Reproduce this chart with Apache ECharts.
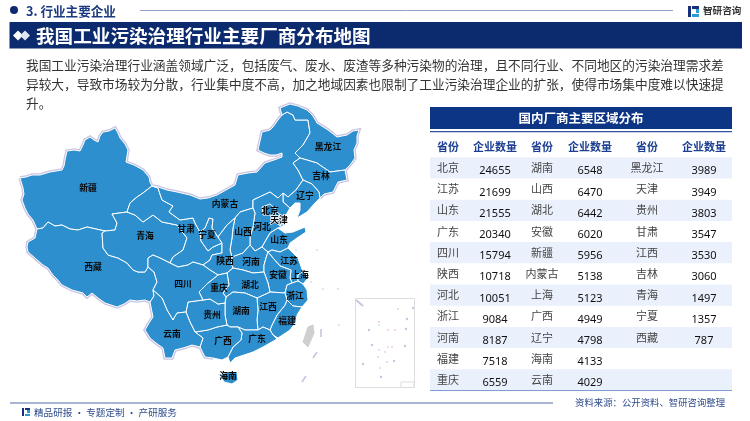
<!DOCTYPE html>
<html>
<head>
<meta charset="utf-8">
<title>我国工业污染治理行业主要厂商分布地图</title>
<style>
	html,body{margin:0;padding:0;background:#fff;}
	#main{width:750px;height:421px;}
</style>
<script src="https://cdn.jsdelivr.net/npm/echarts@6/dist/echarts.min.js"></script>
</head>
<body>
<div id="main"></div>
<script>
// 表格数据
var names1 = ['北京','江苏','山东','广东','四川','陕西','河北','浙江','河南','福建','重庆'];
var counts1 = [24655,21699,21555,20340,15794,10718,10051,9084,8187,7518,6559];
var names2 = ['湖南','山西','湖北','安徽','新疆','内蒙古','上海','广西','辽宁','海南','云南'];
var counts2 = [6548,6470,6442,6020,5956,5138,5123,4949,4798,4133,4029];
var names3 = ['黑龙江','天津','贵州','甘肃','江西','吉林','青海','宁夏','西藏'];
var counts3 = [3989,3949,3803,3547,3530,3060,1497,1357,787];

var pageTitle = '我国工业污染治理行业主要厂商分布地图';
var paragraph = [
	'我国工业污染治理行业涵盖领域广泛，包括废气、废水、废渣等多种污染物的治理，且不同行业、不同地区的污染治理需求差',
	'异较大，导致市场较为分散，行业集中度不高，加之地域因素也限制了工业污染治理企业的扩张，使得市场集中度难以快速提',
	'升。'
];

// 省界线段（按底图描的，相邻省份共用一段）
var arcs = {
	xjN:[[20,178],[26,177],[32,175],[40,175],[50,172],[62,170],[64,166],[65,160],[67,151],[74,150],[80,151],[83,145],[85,140],[90,137],[94,140],[98,142],[100,136],[103,132],[109,131],[115,128],[118,133],[120,138],[125,144],[128,150],[127,156],[126,162],[134,165],[143,170],[149,177],[150,182],[152,186]],
	xjGs:[[152,186],[143,193],[137,197],[130,203],[127,212]],
	xjQh:[[127,212],[112,214],[117,223],[115,230],[105,231]],
	xjXz:[[105,231],[96,229],[87,227],[78,230],[70,229],[62,225],[55,226],[48,222],[43,228],[37,229]],
	xjW:[[37,229],[33,220],[28,214],[25,208],[22,200],[24,194],[23,188],[20,178]],
	xzQh:[[105,231],[102,233],[103,248],[108,255],[118,258],[127,263],[133,270],[138,272],[145,272],[148,267]],
	xzSc:[[148,267],[154,272],[157,282],[153,290]],
	xzYn:[[153,290],[154,296],[150,302]],
	xzS:[[150,302],[145,300],[137,301],[130,300],[124,304],[117,307],[105,303],[98,298],[92,293],[87,297],[83,293],[72,290],[62,285],[57,279],[53,275],[48,268],[43,265],[35,258],[28,252],[27,247],[28,242],[35,238],[37,229]],
	qhGs:[[127,212],[135,215],[143,222],[153,215],[162,222],[177,225],[187,238],[183,250],[173,257],[170,263]],
	qhSc:[[170,263],[160,258],[153,255],[148,258],[148,267]],
	gsIm:[[152,186],[158,188],[162,200],[173,206],[169,212],[180,220],[193,218],[195,223],[200,232]],
	gsNx:[[200,232],[201,241],[208,251],[213,247],[222,243]],
	gsSx:[[222,243],[222,253],[212,255],[210,260],[203,265]],
	gsSc:[[203,265],[193,262],[188,265],[178,267],[170,263]],
	imNx:[[200,232],[205,228],[209,218],[213,219],[212,228],[218,237]],
	nxSx:[[218,237],[222,243]],
	imN:[[282,115],[278,120],[273,127],[270,130],[262,132],[260,141],[258,150],[264,153],[270,155],[276,155],[282,153],[282,157],[274,160],[265,163],[257,172],[248,173],[238,175],[235,185],[226,190],[217,195],[208,198],[200,199],[190,195],[177,192],[167,190],[158,187],[152,186]],
	imSx:[[218,237],[227,225],[235,218]],
	imShx:[[235,218],[240,212],[253,208]],
	imHb:[[253,208],[253,200],[270,192],[278,198],[283,193]],
	imLn:[[283,193],[288,197],[296,190],[303,180]],
	imJl:[[303,180],[298,170],[293,163],[300,158]],
	hljN:[[345,170],[350,165],[355,158],[354,150],[357,143],[357,136],[359,130],[353,131],[347,135],[337,137],[328,130],[317,123],[313,116],[307,110],[298,106],[290,104],[280,108],[282,115]],
	hljIm:[[282,115],[287,112],[293,115],[295,120],[308,120],[310,133],[303,145],[295,153],[300,158]],
	hljJl:[[300,158],[307,160],[317,163],[330,172],[345,170]],
	jlOut:[[345,170],[347,180],[338,182],[335,188],[333,192],[324,194],[320,198]],
	lnJl:[[303,180],[312,184],[319,192],[320,198]],
	lnCoast:[[320,198],[315,203],[307,212],[297,218],[300,210],[300,203],[295,203],[290,208]],
	lnHb:[[290,208],[283,202],[283,193]],
	hbShx:[[253,208],[255,213],[253,227],[250,237],[250,245]],
	hbHn:[[250,245],[255,251],[262,247]],
	hbSd:[[262,247],[270,233],[278,228]],
	hbCoast:[[278,228],[285,225],[286,215],[290,208]],
	hnShx:[[250,245],[243,253],[232,257]],
	sxShx:[[232,257],[230,250],[232,238],[233,228],[235,218]],
	sxHn:[[232,257],[232,265],[233,268]],
	sxHb:[[233,268],[227,273]],
	cqSx:[[218,275],[227,273]],
	scSx:[[203,265],[210,270],[218,275]],
	hnHb:[[233,268],[243,270],[253,273],[264,272]],
	ahHn:[[268,252],[266,258],[264,265],[264,272]],
	sdHn:[[268,252],[262,247]],
	sdCoast:[[278,228],[285,233],[293,232],[305,227],[306,232],[297,238],[290,243],[288,248]],
	sdJs:[[288,248],[280,252],[272,250],[268,252]],
	jsCoast:[[288,248],[298,258],[303,272]],
	jsSh:[[303,272],[298,275],[298,281]],
	jsZj:[[298,281],[292,283]],
	jsAh:[[268,252],[273,258],[280,266],[291,270],[290,278],[292,283]],
	shCoast:[[303,272],[308,278],[303,284]],
	shZj:[[303,284],[298,281]],
	ahZj:[[292,283],[287,285],[285,293]],
	ahJx:[[285,293],[270,292]],
	ahHb:[[264,272],[268,283],[270,292]],
	zjCoast:[[303,284],[307,290],[308,300],[302,307]],
	zjFj:[[302,307],[293,306],[287,300]],
	zjJx:[[287,300],[285,293]],
	fjCoast:[[278,338],[290,330],[296,322],[297,315],[302,307]],
	jxFj:[[287,300],[285,305],[277,315],[272,325],[270,330]],
	gdFj:[[270,330],[273,335],[278,338]],
	jxHb:[[270,292],[257,298]],
	hnJx:[[257,298],[258,310],[257,320],[258,330]],
	gdJx:[[258,330],[263,327],[270,330]],
	huHb:[[257,298],[245,293],[233,292],[226,297]],
	cqHb:[[226,297],[223,293],[229,285],[227,273]],
	huGd:[[258,330],[245,330],[238,327]],
	huGx:[[238,327],[230,327],[227,325]],
	huGz:[[227,325],[225,315],[225,303]],
	huCq:[[225,303],[226,297]],
	gdCoast:[[228,357],[230,363],[235,358],[253,352],[263,347],[277,339],[278,338]],
	gxGd:[[238,327],[242,333],[241,340],[233,347],[228,357]],
	gxCoast:[[200,347],[205,357],[213,358],[222,360],[228,357]],
	gzGx:[[227,325],[217,327],[208,330],[195,332]],
	gxYn:[[195,332],[203,338],[200,347]],
	gzCq:[[203,300],[210,299],[218,304],[225,303]],
	gzYn:[[195,332],[190,322],[186,312]],
	gzSc:[[186,312],[188,302],[203,300]],
	cqSc:[[218,275],[208,283],[199,292],[203,300]],
	scYn:[[153,290],[162,298],[167,310],[173,320],[177,313],[186,312]],
	ynS:[[200,347],[192,345],[183,348],[175,350],[172,358],[165,358],[163,348],[156,343],[150,338],[145,330],[149,323],[153,317],[150,302]]
};
// 每个省由哪些线段围成，-表示反向
var provinceArcs = {
	'新疆':['xjN','xjGs','xjQh','xjXz','xjW'],
	'西藏':['-xjXz','xzQh','xzSc','xzYn','xzS'],
	'青海':['-xjQh','qhGs','qhSc','-xzQh'],
	'甘肃':['gsIm','gsNx','gsSx','gsSc','-qhGs','-xjGs'],
	'宁夏':['imNx','nxSx','-gsNx'],
	'内蒙古':['imN','gsIm','imNx','imSx','imShx','imHb','imLn','imJl','-hljIm'],
	'黑龙江':['hljN','hljIm','hljJl'],
	'吉林':['jlOut','-lnJl','imJl','hljJl'],
	'辽宁':['lnCoast','lnHb','imLn','lnJl'],
	'河北':['lnHb','-imHb','hbShx','hbHn','hbSd','hbCoast'],
	'山西':['imShx','hbShx','hnShx','sxShx'],
	'陕西':['imSx','-sxShx','sxHn','sxHb','-cqSx','-scSx','-gsSx','-nxSx'],
	'河南':['-hbHn','hnShx','sxHn','hnHb','-ahHn','sdHn'],
	'山东':['sdCoast','sdJs','sdHn','hbSd'],
	'江苏':['jsCoast','jsSh','jsZj','-jsAh','-sdJs'],
	'上海':['shCoast','shZj','-jsSh'],
	'安徽':['jsAh','ahZj','ahJx','-ahHb','-ahHn'],
	'浙江':['zjCoast','zjFj','zjJx','-ahZj','-jsZj','-shZj'],
	'福建':['fjCoast','zjFj','jxFj','gdFj'],
	'江西':['ahJx','jxHb','hnJx','gdJx','-jxFj','zjJx'],
	'湖北':['hnHb','ahHb','jxHb','huHb','cqHb','-sxHb'],
	'湖南':['-huHb','hnJx','huGd','huGx','huGz','huCq'],
	'广东':['gdCoast','-gdFj','-gdJx','huGd','gxGd'],
	'广西':['gxCoast','-gxGd','huGx','gzGx','gxYn'],
	'贵州':['gzCq','-huGz','gzGx','gzYn','gzSc'],
	'重庆':['cqSc','gzCq','huCq','cqHb','-cqSx'],
	'四川':['scSx','cqSc','-gzSc','-scYn','-xzSc','-qhSc','-gsSc'],
	'云南':['scYn','-gzYn','gxYn','ynS','-xzYn']
};
// 不和别的省共边的区域
var extraShapes = {
	'北京':[[262,207],[270,204],[277,210],[272,215],[263,215]],
	'天津':[[277,212],[282,216],[285,222],[280,226],[276,222],[274,216]],
	'海南':[[220,375],[227,372],[237,372],[238,380],[232,384],[224,382]]
};
var taiwanShape = [[303,342],[308,327],[313,325],[314,333],[308,347]];
var landBorderArcs = ['xjN','xjW','xzS','ynS','imN','hljN','jlOut'];
var landBorderExtra = [[200,347],[205,357],[213,358]]; //广西陆地边界一小段
// 省名标签位置
var labelPos = {
	'新疆':[88,188],'西藏':[93,267],'青海':[145,236],'甘肃':[186,229],'宁夏':[207,235],'内蒙古':[225,204],
	'黑龙江':[328,147],'吉林':[321,176],'辽宁':[305,196],'北京':[270,211],'天津':[279,220],'河北':[262,227],
	'山西':[243,232],'山东':[279,240],'陕西':[225,261],'河南':[251,262],'江苏':[289,261],'安徽':[278,275],
	'上海':[300,275],'四川':[183,284],'重庆':[219,288],'湖北':[250,285],'浙江':[295,296],'贵州':[212,315],
	'湖南':[241,311],'江西':[268,307],'福建':[287,321],'云南':[172,334],'广西':[223,341],'广东':[257,339],'海南':[228,376]
};

function toGeo(p){return [p[0],-p[1]];}
function ring(list){
	var out = [];
	list.forEach(function(key){
		var rev = key.charAt(0) == '-';
		var pts = arcs[rev ? key.slice(1) : key].slice();
		if(rev) pts.reverse();
		out = out.concat(out.length ? pts.slice(1) : pts);
	});
	return out.map(toGeo);
}
function feature(name,pts,cp){
	return {type:'Feature',properties:{name:name,cp:cp ? toGeo(cp) : undefined},geometry:{type:'Polygon',coordinates:[pts]}};
}
var features = [];
for(var key in provinceArcs){features.push(feature(key,ring(provinceArcs[key]),labelPos[key]));}
for(var key2 in extraShapes){features.push(feature(key2,extraShapes[key2].map(toGeo),labelPos[key2]));}
features.push(feature('台湾',taiwanShape.map(toGeo),[308,336]));
echarts.registerMap('cnProvince',{type:'FeatureCollection',features:features});
var borderLines = landBorderArcs.map(function(k){return arcs[k].map(toGeo);});
borderLines.push(landBorderExtra.map(toGeo));
echarts.registerMap('cnBorder',{type:'FeatureCollection',features:[{type:'Feature',properties:{name:'border'},geometry:{type:'MultiLineString',coordinates:borderLines}}]});

var cjk = '"Noto Sans CJK SC"';
var elements = [];
function rect(x,y,w,h,fill,stroke){
	elements.push({type:'rect',z:1,shape:{x:x,y:y,width:w,height:h},style:{fill:fill || 'none',stroke:stroke || 'none',lineWidth:stroke ? 1 : 0},silent:true});
}
function line(x1,y1,x2,y2,color,w){
	elements.push({type:'line',z:3,shape:{x1:x1,y1:y1,x2:x2,y2:y2},style:{stroke:color,lineWidth:w},silent:true});
}
function dot(x,y,r,color){
	elements.push({type:'circle',z:3,shape:{cx:x,cy:y,r:r},style:{fill:color},silent:true});
}
function text(s,x,y,size,color,align,weight,family){
	elements.push({type:'text',z:20,silent:true,style:{text:s,x:x,y:y,fontSize:size,fontWeight:weight || 'normal',fontFamily:family || cjk,fill:color,align:align || 'left',verticalAlign:'middle'}});
}
function diamond(cx,cy,r,color){
	elements.push({type:'polygon',z:4,silent:true,shape:{points:[[cx-r,cy],[cx,cy-r],[cx+r,cy],[cx,cy+r]]},style:{fill:color}});
}

// 顶部
dot(14,10,4,'#0f2a6e');
text('3. 行业主要企业',26,11,12.6,'#1c3a80','left','bold');
line(140,10.5,673,10.5,'#8fa0cc',1);
rect(688,6,3,11,'#17307a');rect(692,6,7,3,'#17307a');rect(696,9,3,4,'#2a9ad8');rect(692,14,7,3,'#2a9ad8');
text('智研咨询',703,10,9.6,'#333','left','bold');
// 标题条
rect(9.5,22,732.5,26.5,'#0c2a6e');
diamond(18,35.5,5,'#ffffff');diamond(25,35.5,5,'#dfe4f2');
text(pageTitle,36,35.5,18.6,'#ffffff','left','bold');
// 正文
paragraph.forEach(function(s,i){text(s,26,65+i*19,12.7,'#333333');});

// 右侧表格
var tableX = 430,tableW = 302,rowH = 21.2,rowTop = 157.3;
var colX = [448,495,542,590,647,704];
rect(tableX,107,tableW,22,'#0d3585');
line(tableX,131.6,tableX+tableW,131.6,'#2d52a0',1.4);
text('国内厂商主要区域分布',581,118,12.5,'#ffffff','center','bold');
for(var c = 0;c < 6;c++){
	text(c % 2 ? '企业数量' : '省份',colX[c],146.8,11,'#1c3f92','center','bold');
}
for(var r = 0;r < names1.length;r++){
	if(r % 2 == 0) rect(tableX,rowTop+r*rowH,tableW,rowH,'#ebf1fc');
}
[[names1,counts1],[names2,counts2],[names3,counts3]].forEach(function(col,c){
	col[0].forEach(function(n,r){
		var cy = rowTop+r*rowH+rowH/2;
		text(n,colX[c*2],cy,11,'#444444','center');
		text(String(col[1][r]),colX[c*2+1],cy+3.4,11,'#111111','center','normal','"Noto Sans"');
	});
});
line(tableX,390.5,tableX+tableW,390.5,'#7f9dd0',1);

// 页脚
line(10,403,553,403,'#8c9cc4',1.4);
text('资料来源：公开资料、智研咨询整理',575,402,9.4,'#2f4c8c');
rect(22,408,2,8,'#17307a');rect(25,408,5,2,'#17307a');rect(27,410,3,3,'#2a9ad8');rect(25,414,5,2,'#2a9ad8');
text('精品研报 · 专题定制 · 产研服务',34,412.5,9.6,'#2f4c8c');

// 南海小图框和海上小岛
rect(355.5,298.5,59,89,'#ffffff','#dddddd');
rect(401,382,13,5.5,'#ffffff','#dddddd');
var seaDash = [[321,329,321,337],[313,358,317,352],[302,382,306,376]];
seaDash.forEach(function(d){line(d[0],d[1],d[2],d[3],'#c9c4e2',1.6);});
line(356,300,363,306,'#c9c4e2',2);
var insetDots = [[413,308],[407,319],[406,329],[369,330],[372,345],[405,346],[394,361],[363,364],[381,377]];
insetDots.forEach(function(d){dot(d[0],d[1],1.2,'#c9c4e2');});
var insetSpecks = [[398,309],[379,322],[388,330],[395,330],[388,347],[385,352],[392,347],[378,357],[387,362],[380,368]];
insetSpecks.forEach(function(d){dot(d[0],d[1],0.9,'#f0c8dc');});
var seaSpecks = [[323,289],[338,289],[311,282],[339,325],[379,325],[379,350],[296,250],[317,250]];
seaSpecks.forEach(function(d){dot(d[0],d[1],0.9,'#bfe3f7');});

var mapData = [];
[[names1,counts1],[names2,counts2],[names3,counts3]].forEach(function(col){
	col[0].forEach(function(n,i){
		var item = {name:n,value:col[1][i]};
		if(n == '天津') item.label = {textBorderColor:'#ffffff',textBorderWidth:1.5};
		mapData.push(item);
	});
});
mapData.push({name:'台湾',label:{show:false},itemStyle:{areaColor:'#cfcfcf',borderColor:'#cfcfcf'}});

var chart = echarts.init(document.getElementById('main'));
chart.setOption({
	animation:false,
	backgroundColor:'#ffffff',
	tooltip:{show:false},
	geo:{
		map:'cnBorder',
		silent:true,
		z:2,
		left:0,top:0,width:750,height:421,
		aspectScale:1,
		boundingCoords:[[0,0],[750,-421]],
		label:{show:false},
		itemStyle:{areaColor:'transparent',borderColor:'#c9c4e2',borderWidth:3.4}
	},
	series:[{
		type:'map',
		map:'cnProvince',
		silent:true,
		z:3,
		left:0,top:0,width:750,height:421,
		aspectScale:1,
		boundingCoords:[[0,0],[750,-421]],
		data:mapData,
		label:{show:true,fontSize:8.8,color:'#0a0a0a',fontFamily:cjk,fontWeight:'bold'},
		itemStyle:{areaColor:'#2e8fcf',borderColor:'#ffffff',borderWidth:1}
	}],
	graphic:{elements:elements}
});
</script>
</body>
</html>
